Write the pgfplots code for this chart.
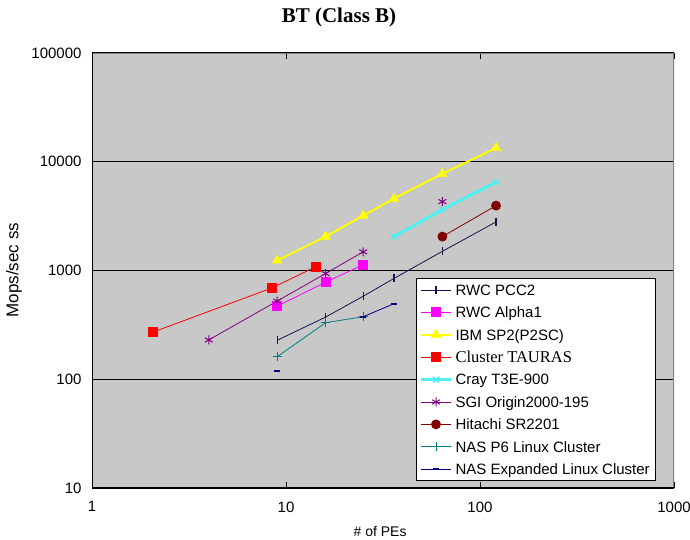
\documentclass[border=0pt]{standalone}
\usepackage{fontspec}
\setmainfont{Liberation Sans}
\newfontfamily\timesfont{Liberation Serif}
\usepackage{pgfplots}
\pgfplotsset{compat=1.18}

\definecolor{plotbg}{RGB}{200,200,200}
\definecolor{framegray}{RGB}{128,128,128}
\definecolor{pccnavy}{RGB}{20,20,80}
\definecolor{alphamag}{RGB}{255,0,255}
\definecolor{ibmyellow}{RGB}{255,255,0}
\definecolor{taured}{RGB}{255,0,0}
\definecolor{craycyan}{RGB}{80,240,240}
\definecolor{sgipurple}{RGB}{128,0,128}
\definecolor{hitachired}{RGB}{128,0,0}
\definecolor{nasteal}{RGB}{0,128,128}
\definecolor{nasnavy}{RGB}{0,0,128}

\begin{document}
\begin{tikzpicture}
\path[use as bounding box] (0pt,0pt) rectangle (690pt,539pt);
\node[font=\timesfont\bfseries\fontsize{21}{25}\selectfont, anchor=base] at (339pt,516pt) {BT (Class B)};
\begin{axis}[
  at={(92pt,51pt)}, anchor=south west,
  scale only axis, width=582pt, height=435pt,
  xmode=log, ymode=log,
  xmin=1, xmax=1000, ymin=10, ymax=100000,
  xtick={1,10,100,1000}, xticklabels={1,10,100,1000},
  ytick={10,100,1000,10000,100000}, yticklabels={10,100,1000,10000,100000},
  xminorticks=false, yminorticks=false,
  axis background/.style={fill=plotbg},
  axis line style={draw=none},
  ymajorgrids, major grid style={black, line width=1.2pt},
  tick align=inside, major tick length=6pt,
  tick style={black, line width=0.8pt},
  xticklabel style={font=\fontsize{15}{18}\selectfont, yshift=-10pt},
  yticklabel style={font=\fontsize{15}{18}\selectfont, xshift=-7pt},
  xlabel={\# of PEs},
  ylabel={Mops/sec ss},
  every axis x label/.style={at={(axis description cs:0.495,-0.101)}, anchor=center, font=\fontsize{14}{16}\selectfont},
  every axis y label/.style={at={(axis description cs:-0.134,0.501)}, anchor=center, rotate=90, font=\fontsize{17}{20}\selectfont},
  unbounded coords=jump,
  legend cell align=left,
  legend image code/.code={\draw[mark repeat=2,mark phase=2] plot coordinates {(0pt,0pt) (15pt,0pt) (30pt,0pt)};},
  legend style={at={(0.5567,0.4828)}, anchor=north west, fill=white, draw=black, line width=1pt,
    font=\fontsize{15}{18}\selectfont, inner xsep=3pt, inner ysep=2.5pt, row sep=4.4pt,
    nodes={inner xsep=3pt, inner ysep=1.5pt, text height=12.9pt, text depth=2.1pt}},
]
% RWC PCC2
\addplot[pccnavy, line width=0.8pt, mark=|, mark size=4pt, mark options={line width=1.2pt}]
  coordinates {(9,228) (16,373) (25,580) (36,845) (64,1500) (121,2800)};
\addlegendentry{RWC PCC2}
% RWC Alpha1
\addplot[alphamag, line width=0.8pt, mark=square*, mark size=4.5pt]
  coordinates {(9,470) (16,780) (25,1130)};
\addlegendentry{RWC Alpha1}
% IBM SP2 (P2SC)
\addplot[ibmyellow, line width=2pt, mark=triangle*, mark size=5.5pt, mark options={line width=0.5pt}]
  coordinates {(9,1236) (16,2050) (25,3200) (36,4580) (64,7760) (121,13400)};
\addlegendentry{IBM SP2(P2SC)}
% Cluster TAURAS
\addplot[taured, line width=0.8pt, mark=square*, mark size=4.5pt]
  coordinates {(2.07,272) (8.5,693) (14.2,1080)};
\addlegendentry{\timesfont\fontsize{16.5}{18}\selectfont Cluster TAURAS}
% Cray T3E-900
\addplot[craycyan, line width=3pt, mark=x, mark size=4pt, mark options={line width=1.5pt}]
  coordinates {(36,2050) (64,3630) (121,6500)};
\addlegendentry{Cray T3E-900}
% SGI Origin2000-195
\addplot[sgipurple, line width=0.8pt, mark=asterisk, mark size=4.5pt, mark options={line width=1pt}]
  coordinates {(4,230) (9,523) (16,938) (25,1485) (36,nan) (64,4300)};
\addlegendentry{SGI Origin2000-195}
% Hitachi SR2201
\addplot[hitachired, line width=0.8pt, mark=*, mark size=4.5pt]
  coordinates {(64,2050) (121,3950)};
\addlegendentry{Hitachi SR2201}
% NAS P6 Linux Cluster
\addplot[nasteal, line width=0.8pt, mark=+, mark size=4.5pt, mark options={line width=1pt}]
  coordinates {(9,161) (16,331) (25,376)};
\addlegendentry{NAS P6 Linux Cluster}
% NAS Expanded Linux Cluster
\addplot[nasnavy, line width=0.8pt, mark=-, mark size=3pt, mark options={line width=2pt}]
  coordinates {(9,118) (16,nan) (25,376) (36,495)};
\addlegendentry{NAS Expanded Linux Cluster}
% frame: gray top/right, black left/bottom axis lines
\draw[framegray, line width=1.2pt] (rel axis cs:0,1) -- (rel axis cs:1,1) -- (rel axis cs:1,0);
\draw[black, line width=1.2pt] (rel axis cs:0,1) -- (rel axis cs:0,0) -- (rel axis cs:1,0);
\end{axis}
\end{tikzpicture}
\end{document}
